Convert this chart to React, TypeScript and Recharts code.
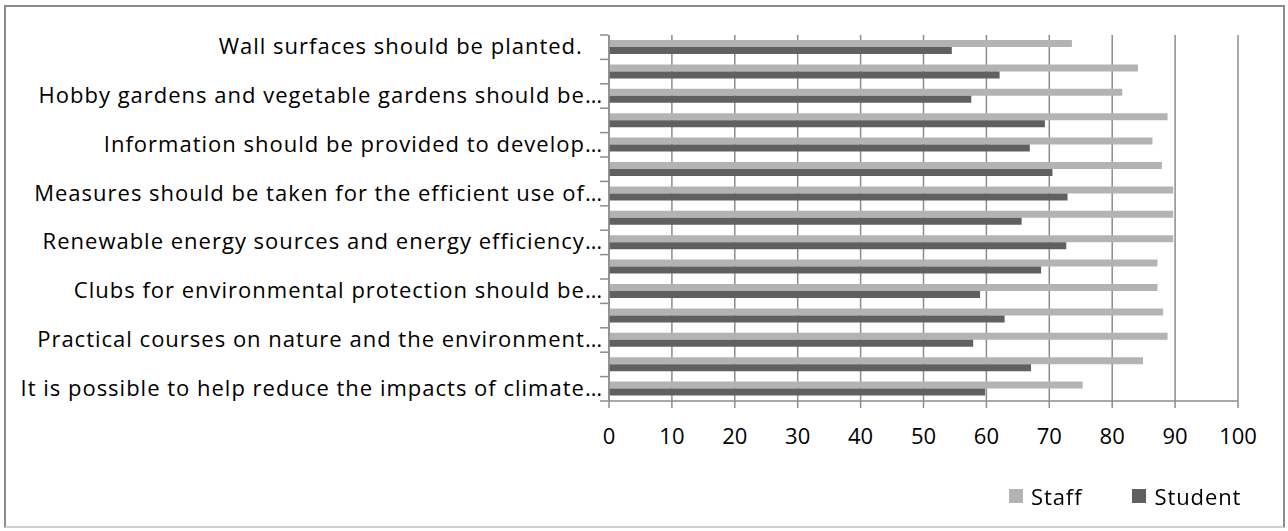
import React from 'react';
import { BarChart, Bar, XAxis, YAxis, CartesianGrid, Legend } from 'recharts';

// rows top to bottom; only every other row carries a visible label
const labels = [
  'Wall surfaces should be planted.\u00a0\u00a0\u00a0',
  '',
  'Hobby gardens and vegetable gardens should be…',
  '',
  'Information should be provided to develop…',
  '',
  'Measures should be taken for the efficient use of…',
  '',
  'Renewable energy sources and energy efficiency…',
  '',
  'Clubs for environmental protection should be…',
  '',
  'Practical courses on nature and the environment…',
  '',
  'It is possible to help reduce the impacts of climate…',
];
const staff = [73.6, 84.1, 81.6, 88.8, 86.4, 87.9, 89.7, 89.7, 89.7, 87.2, 87.2, 88.1, 88.8, 84.9, 75.3];
const student = [54.5, 62.1, 57.6, 69.3, 66.9, 70.5, 72.9, 65.6, 72.7, 68.7, 59.0, 62.9, 57.9, 67.1, 59.8];
const xTicks = [0, 10, 20, 30, 40, 50, 60, 70, 80, 90, 100];

const data = labels.map((label, i) => ({ label, Staff: staff[i], Student: student[i] }));

const FONT = '"Open Sans", sans-serif';
const AXIS = '#8c8c8c';
const BAND = 24.4;

const CategoryTick = (props: any) => {
  const { x, y, payload, index } = props;
  const top = y - BAND / 2;
  return (
    <g>
      <line x1={x - 1} x2={x + 7} y1={top} y2={top} stroke={AXIS} strokeWidth={1.5} />
      {index === labels.length - 1 && (
        <line x1={x - 1} x2={x + 7} y1={y + BAND / 2} y2={y + BAND / 2} stroke={AXIS} strokeWidth={1.5} />
      )}
      {payload.value && (
        <text
          x={x + 2}
          y={y}
          dy={7}
          textAnchor="end"
          fill="#000"
          fontSize={22}
          letterSpacing={1}
          fontFamily={FONT}
          style={{ whiteSpace: 'pre' }}
        >
          {payload.value}
        </text>
      )}
    </g>
  );
};

const LegendContent = () => (
  <div style={{ display: 'flex', fontFamily: FONT, fontSize: 22, letterSpacing: 0.9, color: '#000', alignItems: 'center' }}>
    {[
      { name: 'Staff', color: '#b3b3b3' },
      { name: 'Student', color: '#606060' },
    ].map((it, i) => (
      <div key={it.name} style={{ display: 'flex', alignItems: 'center', marginLeft: i ? 50 : 0 }}>
        <span style={{ width: 14, height: 14, background: it.color, display: 'inline-block', marginRight: 8 }} />
        <span>{it.name}</span>
      </div>
    ))}
  </div>
);

export default function App() {
  return (
    <div style={{ position: 'fixed', left: 0, top: 0, width: 1288, height: 531, background: '#fff' }}>
      <div
        style={{
          position: 'absolute',
          left: 4,
          top: 5,
          width: 1281,
          height: 523,
          borderTop: '2px solid #8c8c8c',
          borderLeft: '2px solid #8c8c8c',
          borderRight: '2px solid #8c8c8c',
          borderBottom: '2px solid #cfcfcf',
          boxSizing: 'border-box',
        }}
      />
      <div style={{ position: 'absolute', left: 0, top: 0 }}>
        <BarChart
          width={1288}
          height={531}
          data={data}
          layout="vertical"
          margin={{ top: 35, right: 50, bottom: 0, left: 0 }}
          barSize={7}
          barGap={0}
        >
          <CartesianGrid horizontal={false} stroke={AXIS} strokeWidth={1.5} />
          <XAxis
            type="number"
            domain={[0, 100]}
            ticks={xTicks}
            interval={0}
            axisLine={{ stroke: AXIS, strokeWidth: 1.5 }}
            tickLine={{ stroke: AXIS, strokeWidth: 1.5 }}
            tickSize={7}
            tickMargin={20}
            tick={{ fill: '#000', fontSize: 22, fontFamily: FONT }}
            height={36}
          />
          <YAxis
            type="category"
            dataKey="label"
            width={609}
            interval={0}
            axisLine={{ stroke: AXIS, strokeWidth: 1.5 }}
            tickLine={false}
            tick={<CategoryTick />}
          />
          <Legend
            verticalAlign="bottom"
            align="right"
            height={94}
            content={<LegendContent />}
            wrapperStyle={{ left: 1009, top: 481, width: 270 }}
          />
          <Bar dataKey="Staff" fill="#b3b3b3" isAnimationActive={false} />
          <Bar dataKey="Student" fill="#606060" isAnimationActive={false} />
        </BarChart>
      </div>
    </div>
  );
}
